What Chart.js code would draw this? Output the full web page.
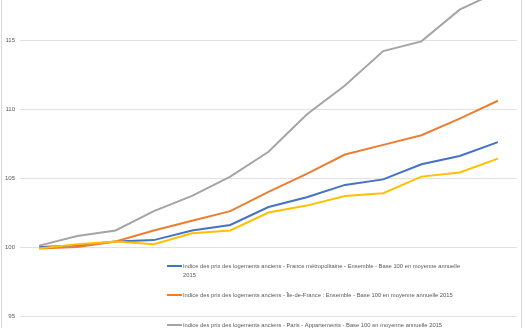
<!DOCTYPE html>
<html>
<head>
<meta charset="utf-8">
<script src="https://cdn.jsdelivr.net/npm/chart.js@4/dist/chart.umd.min.js"></script>
<style>
  html, body { margin: 0; padding: 0; background: #fff; }
  #wrap { width: 525px; height: 328px; }
</style>
</head>
<body>
<div id="wrap"><canvas id="chart" width="525" height="328"></canvas></div>
<script>
// trimestres (axe des x hors cadre dans l'image)
const trimestres = ['2015-T1', '2015-T2', '2015-T3', '2015-T4', '2016-T1', '2016-T2', '2016-T3',
    '2016-T4', '2017-T1', '2017-T2', '2017-T3', '2017-T4', '2018-T1'];

const franceMetro = [100.0, 100.1, 100.4, 100.5, 101.2, 101.6, 102.9, 103.6, 104.5, 104.9, 106.0, 106.6, 107.6];
const ileDeFrance = [99.9, 100.0, 100.4, 101.2, 101.9, 102.6, 104.0, 105.3, 106.7, 107.4, 108.1, 109.3, 110.6];
const parisApparts = [100.1, 100.8, 101.2, 102.6, 103.7, 105.1, 106.9, 109.6, 111.7, 114.2, 114.9, 117.2, 118.5];
const province = [99.9, 100.2, 100.4, 100.2, 101.0, 101.2, 102.5, 103.0, 103.7, 103.9, 105.1, 105.4, 106.4];

const yMin = 95;
const yMax = 115;
const yStep = 5;

const legende = [
    { color: '#4472C4', lines: ['Indice des prix des logements anciens - France métropolitaine - Ensemble - Base 100 en moyenne annuelle', '2015'] },
    { color: '#ED7D31', lines: ['Indice des prix des logements anciens - Île-de-France : Ensemble - Base 100 en moyenne annuelle 2015'] },
    { color: '#A5A5A5', lines: ['Indice des prix des logements anciens - Paris - Appartements - Base 100 en moyenne annuelle 2015'] }
];

// cadre gris à gauche et à droite
const cadre = {
    id: 'cadre',
    beforeDraw(chart) {
        const ctx = chart.ctx;
        ctx.save();
        ctx.strokeStyle = '#d9d9d9';
        ctx.lineWidth = 1;
        ctx.beginPath();
        ctx.moveTo(1.5, 0);
        ctx.lineTo(1.5, chart.height);
        ctx.moveTo(521.5, 0);
        ctx.lineTo(521.5, chart.height);
        ctx.stroke();
        ctx.restore();
    }
};

// légende dans la zone de tracé, avec texte sur deux lignes
const legendeBas = {
    id: 'legendeBas',
    afterDraw(chart) {
        const ctx = chart.ctx;
        const x0 = 167, rows = [266, 295, 325];
        ctx.save();
        ctx.font = '5.8px "Liberation Sans", Arial, sans-serif';
        ctx.fillStyle = '#595959';
        ctx.textBaseline = 'middle';
        legende.forEach((item, i) => {
            const y = rows[i];
            ctx.strokeStyle = item.color;
            ctx.lineWidth = 2;
            ctx.beginPath();
            ctx.moveTo(x0, y);
            ctx.lineTo(x0 + 15, y);
            ctx.stroke();
            item.lines.forEach((t, j) => {
                ctx.fillText(t, x0 + 16, y + j * 9);
            });
        });
        ctx.restore();
    }
};

function serie(label, data, color, order) {
    return {
        label: label,
        data: data,
        borderColor: color,
        backgroundColor: color,
        borderWidth: 2,
        pointRadius: 0,
        tension: 0,
        fill: false,
        clip: false,
        order: order
    };
}

new Chart(document.getElementById('chart'), {
    type: 'line',
    data: {
        labels: trimestres,
        datasets: [
            serie(legende[0].lines.join(' '), franceMetro, '#4472C4', 4),
            serie(legende[1].lines[0], ileDeFrance, '#ED7D31', 3),
            serie(legende[2].lines[0], parisApparts, '#A5A5A5', 2),
            serie('Indice des prix des logements anciens - Province - Ensemble - Base 100 en moyenne annuelle 2015', province, '#FFC000', 1)
        ]
    },
    options: {
        responsive: false,
        animation: false,
        layout: { padding: { top: 40, right: 8, bottom: 12, left: 0 } },
        plugins: {
            legend: { display: false },
            tooltip: { enabled: false }
        },
        scales: {
            x: {
                display: false,
                offset: true
            },
            y: {
                min: yMin,
                max: yMax,
                afterFit(scale) { scale.width = 20; },
                border: { display: false },
                grid: { color: '#e2e2e2', drawTicks: false, lineWidth: 1 },
                ticks: {
                    stepSize: yStep,
                    padding: 5,
                    color: '#595959',
                    font: { family: '"Liberation Sans", Arial, sans-serif', size: 6 }
                }
            }
        }
    },
    plugins: [cadre, legendeBas]
});
</script>
</body>
</html>
